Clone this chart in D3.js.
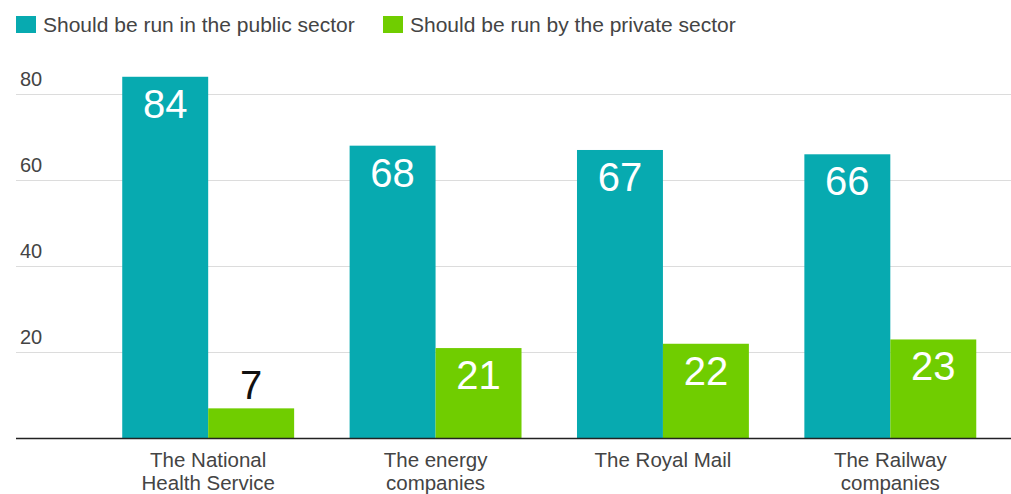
<!DOCTYPE html>
<html><head><meta charset="utf-8">
<script src="https://cdn.jsdelivr.net/npm/d3@7"></script>
<style>body{margin:0;background:#fff;} svg{display:block;font-family:"Liberation Sans",Arial,sans-serif;}</style>
</head><body><svg id="c" width="1011" height="494"></svg>
<script>
const categories = [["The National","Health Service"],["The energy","companies"],["The Royal Mail"],["The Railway","companies"]];
const seriesNames = ["Should be run in the public sector","Should be run by the private sector"];
const publicValues = [84,68,67,66];
const privateValues = [7,21,22,23];
const yTicks = [20,40,60,80];
const colors = ["#07aab0","#70cd00"];

const svg = d3.select("#c");
const y = d3.scaleLinear().domain([0,80]).range([438.5,94]);
const x = d3.scaleBand().domain(d3.range(categories.length)).range([94.5,1004]).paddingInner(0.244).paddingOuter(0.122);
const xs = d3.scaleBand().domain([0,1]).range([0,x.bandwidth()]);

// gridlines
svg.append("g").selectAll("line").data(yTicks).join("line")
  .attr("x1",16).attr("x2",1011).attr("y1",d=>Math.round(y(d))+0.5).attr("y2",d=>Math.round(y(d))+0.5)
  .attr("stroke","#dcdcdc").attr("stroke-width",1);
svg.append("g").selectAll("text").data(yTicks).join("text")
  .attr("x",20).attr("y",d=>y(d)-8).text(d=>d)
  .attr("font-size",20).attr("fill","#444");

const data = [];
categories.forEach((c,i)=>{ data.push({i,s:0,v:publicValues[i]}); data.push({i,s:1,v:privateValues[i]}); });

svg.append("g").selectAll("rect").data(data).join("rect")
  .attr("x",d=>x(d.i)+xs(d.s)).attr("width",xs.bandwidth())
  .attr("y",d=>y(d.v)).attr("height",d=>y(0)-y(d.v))
  .attr("fill",d=>colors[d.s]);

svg.append("g").selectAll("text").data(data).join("text")
  .attr("x",d=>x(d.i)+xs(d.s)+xs.bandwidth()/2)
  .attr("y",d=>{ const h=y(0)-y(d.v); return h>50 ? y(d.v)+41 : y(d.v)-9; })
  .attr("text-anchor","middle").attr("font-size",40)
  .attr("fill",d=>(y(0)-y(d.v))>50?"#fff":"#111")
  .text(d=>d.v);

// baseline
svg.append("line").attr("x1",16).attr("x2",1011).attr("y1",y(0)).attr("y2",y(0)).attr("stroke","#222").attr("stroke-width",1.5);

// x labels
const xl = svg.append("g").selectAll("text").data(categories).join("text")
  .attr("text-anchor","middle").attr("font-size",20.5).attr("fill","#444");
xl.each(function(lines,i){
  d3.select(this).selectAll("tspan").data(lines).join("tspan")
    .attr("x",x(i)+x.bandwidth()/2).attr("y",(d,j)=>467+j*23).text(d=>d);
});

// legend
const legX = [16,383];
const lg = svg.append("g").selectAll("g").data(seriesNames).join("g").attr("transform",(d,i)=>`translate(${legX[i]},16)`);
lg.append("rect").attr("width",20).attr("height",17).attr("fill",(d,i)=>colors[i]);
lg.append("text").attr("x",27).attr("y",15.5).attr("font-size",21).attr("fill","#444").text(d=>d);
</script></body></html>
